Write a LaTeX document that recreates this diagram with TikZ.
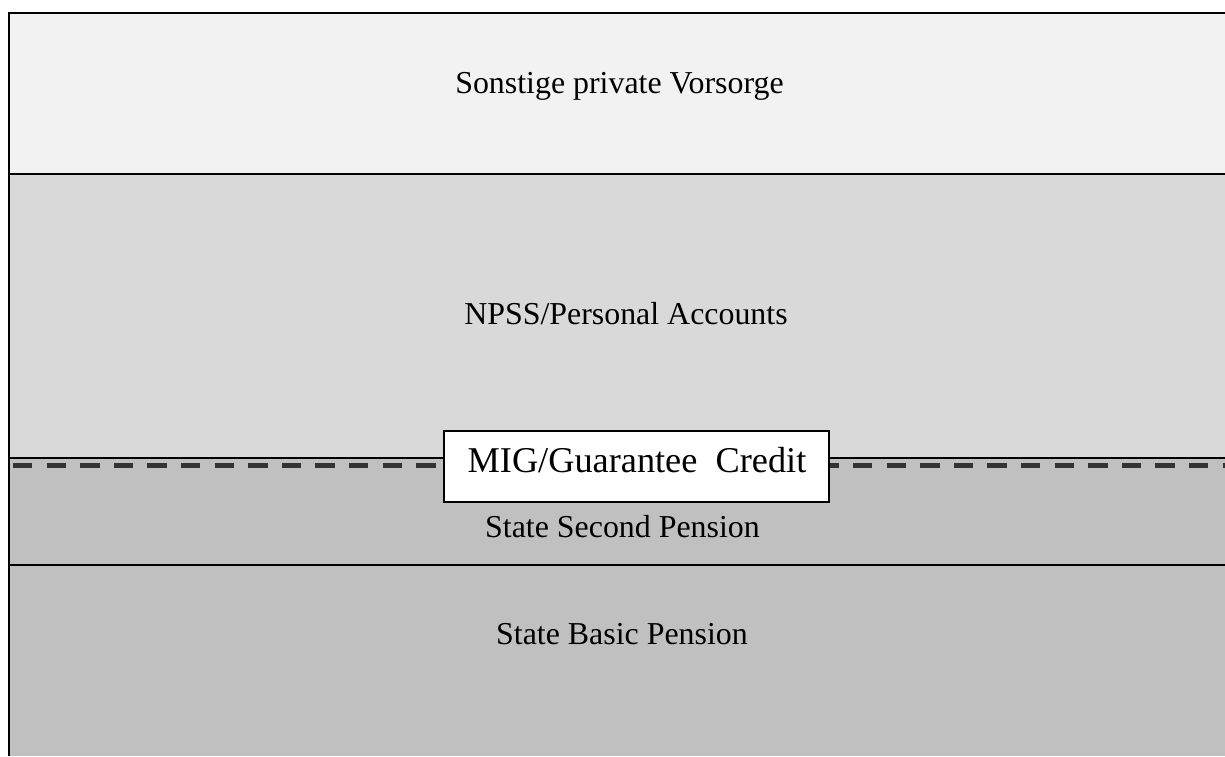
\documentclass[tikz,border=0pt]{standalone}
\usepackage{fontspec}
\setmainfont{Liberation Serif}
\definecolor{bandA}{HTML}{F2F2F2}
\definecolor{bandB}{HTML}{D9D9D9}
\definecolor{bandC}{HTML}{C0C0C0}
\definecolor{dashgray}{HTML}{333333}
\tikzset{
  border/.style={line width=1.8pt, black},
  label/.style={anchor=base, inner sep=0pt, font=\fontsize{31.9}{36}\selectfont},
  migbox/.style={draw=black, fill=white, line width=1.2pt, inner sep=0pt},
  migdash/.style={dashgray, line width=5pt, dash pattern=on 19.3pt off 14.3pt},
}
\begin{document}
\begin{tikzpicture}[x=1pt,y=-1pt]
\useasboundingbox (0,0) rectangle (1225,756);
\fill[bandA] (9,13) rectangle (1225,174);
\fill[bandB] (9,174) rectangle (1225,458);
\fill[bandC] (9,458) rectangle (1225,565);
\fill[bandC] (9,565) rectangle (1225,756);
\coordinate (dL) at (13,465);
\coordinate (dR) at (1225,465);
\draw[migdash] (dL) -- (dR);
\draw[border] (9,756) -- (9,13) -- (1225,13);
\draw[border] (9,174) -- (1225,174);
\draw[border] (9,458) -- (1225,458);
\draw[border] (9,565) -- (1225,565);
\node[migbox, minimum width=385pt, minimum height=71pt] (mig) at (636.5,466.5) {};
\node[anchor=base, inner sep=0pt, font=\fontsize{36.3}{40}\selectfont] (migtext) at (637,472) {MIG/Guarantee\ \ Credit};
\node[label] (t1) at (619.5,93) {Sonstige private Vorsorge};
\node[label] (t2) at (626,324) {NPSS/Personal Accounts};
\node[label] (t3) at (622.5,537) {State Second Pension};
\node[label] (t4) at (622,644) {State Basic Pension};
\end{tikzpicture}
\end{document}
